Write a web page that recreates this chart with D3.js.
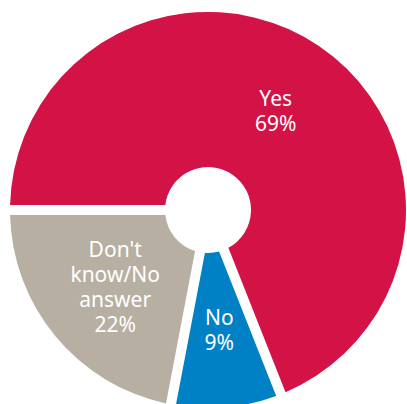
<!DOCTYPE html>
<html>
<head>
<meta charset="utf-8">
<script src="https://cdn.jsdelivr.net/npm/d3@7"></script>
<style>
  body { margin: 0; background: #fff; }
  svg { display: block; }
</style>
</head>
<body>
<div id="chart"></div>
<script>
var categories = ["Yes", "No", "Don't know/No answer"];
var values = [69, 9, 22];
var labelLines = [["Yes"], ["No"], ["Don't", "know/No", "answer"]];
var colors = ["#d31245", "#0081c6", "#b8afa3"];

var width = 407, height = 404;
var cx = 208, cy = 210;
var outerR = 198, innerR = 43;

var svg = d3.select("#chart").append("svg")
    .attr("width", width)
    .attr("height", height);

var g = svg.append("g")
    .attr("transform", "translate(" + cx + "," + cy + ")");

var data = categories.map(function (c, i) {
    return { name: c, value: values[i], lines: labelLines[i], color: colors[i] };
});

var pie = d3.pie()
    .sort(null)
    .value(function (d) { return d.value; })
    .startAngle(-Math.PI / 2)
    .endAngle(Math.PI * 1.5);

// constant-width gap of about 10px between slices
var arc = d3.arc()
    .innerRadius(innerR)
    .outerRadius(outerR)
    .padRadius(outerR)
    .padAngle(10 / outerR);

var arcs = pie(data);

g.selectAll("path")
    .data(arcs)
    .enter().append("path")
    .attr("d", arc)
    .style("fill", function (d) { return d.data.color; });

var lineH = 25;
var labels = g.selectAll("text")
    .data(arcs)
    .enter().append("text")
    .attr("transform", function (d) {
        var c = arc.centroid(d);
        var n = d.data.lines.length + 1;
        return "translate(" + c[0] + "," + (c[1] - (n - 1) * lineH / 2 + 8) + ")";
    })
    .attr("text-anchor", "middle")
    .style("fill", "#fff")
    .style("font-family", "'Noto Sans', 'Open Sans', sans-serif")
    .style("font-size", "21px");

labels.each(function (d) {
    var t = d3.select(this);
    d.data.lines.concat([d.data.value + "%"]).forEach(function (s, i) {
        t.append("tspan")
            .attr("x", 0)
            .attr("y", i * lineH)
            .text(s);
    });
});
</script>
</body>
</html>
